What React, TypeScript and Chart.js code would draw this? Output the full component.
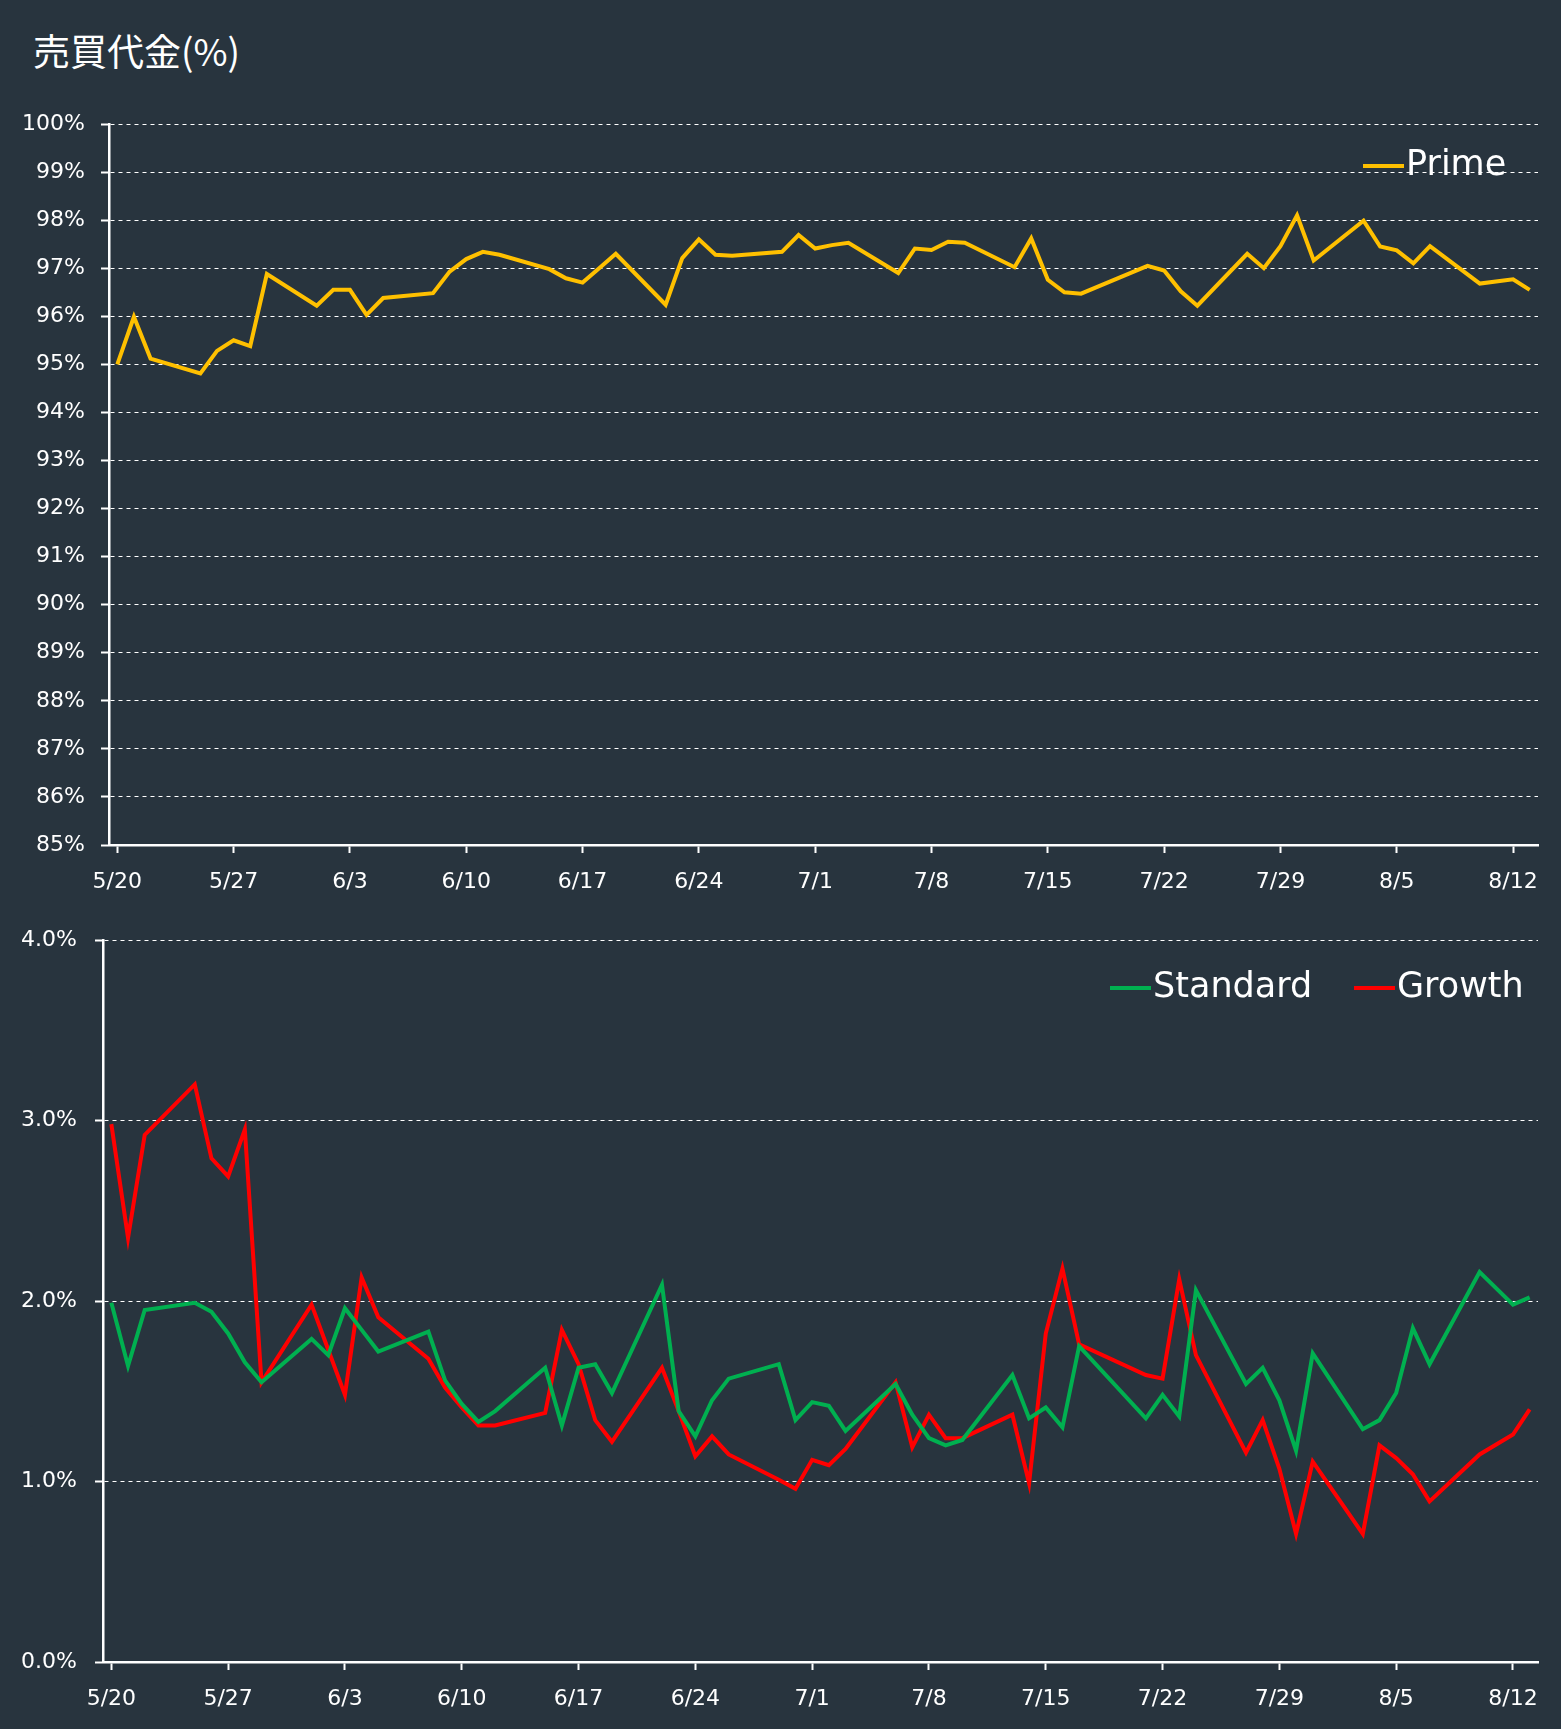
import React, { useEffect, useRef } from "react";
import { Chart, registerables } from "chart.js";
Chart.register(...registerables);

const BG = "#28343e";
const FONT = "'DejaVu Sans', Verdana, sans-serif";

const tickDays = [0, 7, 14, 21, 28, 35, 42, 49, 56, 63, 70, 77, 84];
const tickLabels = ["5/20", "5/27", "6/3", "6/10", "6/17", "6/24", "7/1", "7/8", "7/15", "7/22", "7/29", "8/5", "8/12"];

const primeDays = [0, 1, 2, 5, 6, 7, 8, 9, 12, 13, 14, 15, 16, 19, 20, 21, 22, 23, 26, 27, 28, 29, 30, 33, 34, 35, 36, 37, 40, 41, 42, 43, 44, 47, 48, 49, 50, 51, 54, 55, 56, 57, 58, 62, 63, 64, 65, 68, 69, 70, 71, 72, 75, 76, 77, 78, 79, 82, 84, 85];
const primeValues = [95.0, 95.99, 95.12, 94.81, 95.28, 95.5, 95.38, 96.88, 96.22, 96.55, 96.55, 96.03, 96.38, 96.48, 96.93, 97.19, 97.34, 97.28, 96.98, 96.79, 96.7, 97.0, 97.3, 96.24, 97.21, 97.6, 97.28, 97.26, 97.34, 97.69, 97.41, 97.48, 97.53, 96.9, 97.41, 97.38, 97.55, 97.53, 97.02, 97.62, 96.76, 96.5, 96.47, 97.05, 96.95, 96.52, 96.22, 97.3, 97.0, 97.46, 98.1, 97.16, 97.99, 97.45, 97.37, 97.1, 97.46, 96.68, 96.77, 96.55];

const smallDays = [0, 1, 2, 5, 6, 7, 8, 9, 12, 13, 14, 15, 16, 19, 20, 21, 22, 23, 26, 27, 28, 29, 30, 33, 34, 35, 36, 37, 40, 41, 42, 43, 44, 47, 48, 49, 50, 51, 54, 55, 56, 57, 58, 62, 63, 64, 65, 68, 69, 70, 71, 72, 75, 76, 77, 78, 79, 82, 84, 85];
const standardValues = [1.99, 1.64, 1.95, 1.99, 1.94, 1.82, 1.66, 1.55, 1.79, 1.7, 1.96, 1.84, 1.72, 1.83, 1.56, 1.43, 1.33, 1.39, 1.63, 1.31, 1.63, 1.65, 1.49, 2.09, 1.39, 1.25, 1.45, 1.57, 1.65, 1.34, 1.44, 1.42, 1.28, 1.54, 1.37, 1.24, 1.2, 1.23, 1.59, 1.35, 1.41, 1.3, 1.75, 1.35, 1.48, 1.36, 2.06, 1.54, 1.63, 1.45, 1.17, 1.71, 1.29, 1.34, 1.49, 1.85, 1.65, 2.16, 1.98, 2.02];
const growthValues = [2.98, 2.35, 2.92, 3.2, 2.79, 2.69, 2.95, 1.55, 1.98, 1.73, 1.48, 2.13, 1.91, 1.68, 1.52, 1.41, 1.31, 1.31, 1.38, 1.84, 1.65, 1.34, 1.22, 1.63, 1.39, 1.14, 1.25, 1.15, 1.01, 0.96, 1.12, 1.09, 1.18, 1.55, 1.19, 1.37, 1.24, 1.24, 1.37, 0.99, 1.82, 2.18, 1.76, 1.59, 1.57, 2.12, 1.7, 1.16, 1.34, 1.07, 0.71, 1.11, 0.71, 1.2, 1.13, 1.04, 0.89, 1.15, 1.26, 1.4];

const toPoints = (days: number[], vals: number[]) => days.map((d, i) => ({ x: d, y: vals[i] }));

function legendPlugin(items: { label: string; color: string; x: number }[], y: number) {
  return {
    id: "customLegend",
    afterDraw(chart: any) {
      const ctx = chart.ctx;
      ctx.save();
      items.forEach((it) => {
        ctx.strokeStyle = it.color;
        ctx.lineWidth = 4;
        ctx.beginPath();
        ctx.moveTo(it.x, y);
        ctx.lineTo(it.x + 41, y);
        ctx.stroke();
        ctx.fillStyle = "#ffffff";
        ctx.font = `35px ${FONT}`;
        ctx.textBaseline = "middle";
        ctx.fillText(it.label, it.x + 43, y);
      });
      ctx.restore();
    },
  };
}

function makeOptions(opts: {
  yMin: number; yMax: number; yStep: number; yFmt: (v: number) => string;
  left: number; right: number; top: number; xAxisH: number; yTickPad: number;
}) {
  return {
    responsive: false,
    animation: false as const,
    layout: { padding: { left: 0, right: opts.right, top: opts.top, bottom: 0 } },
    plugins: { legend: { display: false }, tooltip: { enabled: false } },
    elements: { point: { radius: 0 }, line: { borderWidth: 4, tension: 0 } },
    scales: {
      x: {
        type: "linear" as const,
        min: -0.5,
        max: 85.5,
        afterBuildTicks: (scale: any) => { scale.ticks = tickDays.map((v) => ({ value: v })); },
        afterFit: (scale: any) => { scale.height = opts.xAxisH; },
        ticks: {
          color: "#ffffff",
          font: { family: FONT, size: 22 },
          padding: 16,
          maxRotation: 0,
          autoSkip: false,
          callback: (v: number) => tickLabels[tickDays.indexOf(v)] ?? "",
        },
        grid: { drawOnChartArea: false, color: "#ffffff", tickLength: 8, tickWidth: 2 },
        border: { color: "#ffffff", width: 2.5 },
      },
      y: {
        min: opts.yMin,
        max: opts.yMax,
        afterFit: (scale: any) => { scale.width = opts.left; },
        ticks: {
          stepSize: opts.yStep,
          color: "#ffffff",
          font: { family: FONT, size: 22 },
          padding: opts.yTickPad,
          callback: (v: number) => opts.yFmt(v),
        },
        grid: {
          color: "#ffffff",
          lineWidth: 1,
          tickLength: 8,
          tickWidth: 2,
          tickBorderDash: [],
        },
        border: { color: "#ffffff", width: 2.5, dash: [4, 4] },
      },
    },
  };
}

export default function App() {
  const topRef = useRef<HTMLCanvasElement>(null);
  const botRef = useRef<HTMLCanvasElement>(null);

  useEffect(() => {
    document.body.style.margin = "0";
    document.body.style.background = BG;

    const topOpts: any = makeOptions({
      yMin: 85, yMax: 100, yStep: 1, yFmt: (v) => `${Math.round(v)}%`,
      left: 109, right: 23, top: 124, xAxisH: 65, yTickPad: 16,
    });
    const top = new Chart(topRef.current!, {
      type: "line",
      data: {
        datasets: [{ label: "Prime", data: toPoints(primeDays, primeValues), borderColor: "#ffc000", backgroundColor: "#ffc000" }],
      },
      options: topOpts,
      plugins: [legendPlugin([{ label: "Prime", color: "#ffc000", x: 1363 }], 166)],
    });

    const botOpts: any = makeOptions({
      yMin: 0, yMax: 4, yStep: 1, yFmt: (v) => `${v.toFixed(1)}%`,
      left: 103, right: 23, top: 40, xAxisH: 67, yTickPad: 18,
    });
    const bot = new Chart(botRef.current!, {
      type: "line",
      data: {
        datasets: [
          { label: "Standard", data: toPoints(smallDays, standardValues), borderColor: "#00b050", backgroundColor: "#00b050" },
          { label: "Growth", data: toPoints(smallDays, growthValues), borderColor: "#ff0000", backgroundColor: "#ff0000" },
        ],
      },
      options: botOpts,
      plugins: [
        legendPlugin([
          { label: "Standard", color: "#00b050", x: 1110 },
          { label: "Growth", color: "#ff0000", x: 1354 },
        ], 88),
      ],
    });

    return () => { top.destroy(); bot.destroy(); };
  }, []);

  return (
    <div style={{ position: "relative", width: 1561, height: 1729, background: BG, overflow: "hidden" }}>
      <div style={{ position: "absolute", left: 33, top: 26, color: "#ffffff", fontSize: 37, fontFamily: "'Noto Sans CJK JP', sans-serif", lineHeight: 1.3 }}>
        売買代金(%)
      </div>
      <canvas ref={topRef} width={1561} height={910} style={{ position: "absolute", left: 0, top: 0, width: 1561, height: 910 }} />
      <canvas ref={botRef} width={1561} height={829} style={{ position: "absolute", left: 0, top: 900, width: 1561, height: 829 }} />
    </div>
  );
}
